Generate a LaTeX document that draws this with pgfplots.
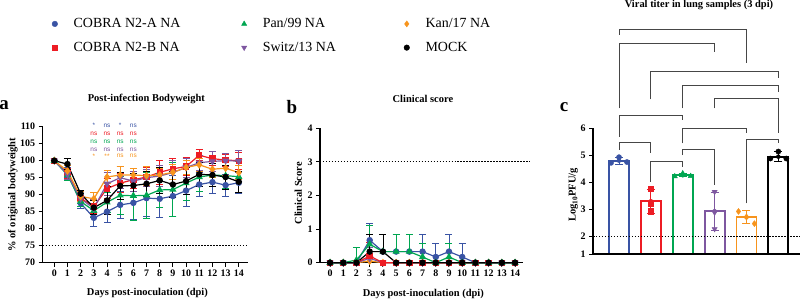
\documentclass[border=0pt]{standalone}
\usepackage{pgfplots}
\pgfplotsset{compat=1.18}
\usepackage{pgfplotstable}
\usepackage{fontspec}
\setmainfont{Liberation Serif}
\newfontfamily\sansf{Liberation Sans}
\usetikzlibrary{plotmarks}
\definecolor{cA}{RGB}{57,83,164}
\definecolor{cB}{RGB}{237,28,36}
\definecolor{cP}{RGB}{0,166,81}
\definecolor{cS}{RGB}{126,87,160}
\definecolor{cK}{RGB}{247,148,29}
\definecolor{cM}{RGB}{0,0,0}
\definecolor{brk}{RGB}{70,70,70}

\pgfplotstableread{
d m e
0 100 0
1 96.5 1.5
2 87.5 1.5
3 83.2 2.6
4 85.0 3.2
5 87.0 4.0
6 87.6 5.0
7 89.0 5.5
8 88.8 5.5
9 89.6 6.0
10 91.2 4.6
11 93.0 3.5
12 93.7 3.2
13 92.8 3.2
14 93.5 3.0
}\wA
\pgfplotstableread{
d m e
0 100 0
1 96.2 1.5
2 89.0 1.5
3 86.5 2.0
4 91.8 3.0
5 93.4 2.8
6 94.4 2.5
7 95.2 2.8
8 96.6 3.5
9 97.6 3.0
10 98.3 2.6
11 101.6 1.6
12 100.6 2.0
13 100.2 1.8
14 100.0 2.5
}\wB
\pgfplotstableread{
d m e
0 100 0
1 95.8 1.5
2 88.0 1.5
3 85.3 2.0
4 87.8 3.0
5 89.8 5.5
6 89.7 7.2
7 89.8 6.8
8 91.4 5.0
9 91.5 8.0
10 93.4 5.0
11 95.2 4.2
12 95.8 3.5
13 95.6 3.8
14 95.3 4.6
}\wP
\pgfplotstableread{
d m e
0 100 0
1 96.0 1.5
2 88.8 1.5
3 86.0 2.5
4 93.2 3.5
5 95.0 3.2
6 94.0 3.0
7 95.0 2.5
8 95.5 3.0
9 96.5 3.5
10 98.0 2.8
11 99.4 2.2
12 99.8 2.8
13 100.0 2.2
14 99.9 3.0
}\wS
\pgfplotstableread{
d m e
0 100 0
1 97.0 1.5
2 89.5 1.5
3 88.8 2.0
4 95.2 2.0
5 95.8 2.5
6 95.8 2.0
7 95.6 2.8
8 95.8 2.0
9 96.6 2.2
10 98.0 2.0
11 98.8 2.0
12 97.5 2.4
13 97.8 2.0
14 96.5 2.0
}\wK
\pgfplotstableread{
d m e
0 100 0
1 99.0 1.6
2 90.3 1.0
3 86.2 2.0
4 88.3 4.0
5 92.6 4.0
6 92.7 3.5
7 93.2 3.8
8 94.2 3.8
9 93.0 3.8
10 94.0 4.0
11 96.0 3.5
12 95.8 3.5
13 95.2 3.5
14 93.8 3.2
}\wM

\pgfplotstableread{
d m e
0 0 0
1 0 0
2 0 0
3 0.67 0.5
4 0.33 0.5
5 0.33 0.52
6 0.33 0.52
7 0.33 0.52
8 0.17 0.4
9 0.33 0.52
10 0.17 0.4
11 0 0
12 0 0
13 0 0
14 0 0
}\sA
\pgfplotstableread{
d m e
0 0 0
1 0 0
2 0 0
3 0.2 0.4
4 0 0
5 0 0
6 0 0
7 0 0
8 0 0
9 0 0
10 0 0
11 0 0
12 0 0
13 0 0
14 0 0
}\sB
\pgfplotstableread{
d m e
0 0 0
1 0 0
2 0.08 0.37
3 0.55 0.55
4 0.33 0.5
5 0.33 0.52
6 0.33 0.52
7 0.17 0.4
8 0 0
9 0.17 0.4
10 0 0
11 0 0
12 0 0
13 0 0
14 0 0
}\sP
\pgfplotstableread{
d m e
0 0 0
1 0 0
2 0 0
3 0.13 0.33
4 0 0
5 0 0
6 0 0
7 0 0
8 0 0
9 0 0
10 0 0
11 0 0
12 0 0
13 0 0
14 0 0
}\sS
\pgfplotstableread{
d m e
0 0 0
1 0 0
2 0 0
3 0.05 0.1
4 0 0
5 0 0
6 0 0
7 0 0
8 0 0
9 0 0
10 0 0
11 0 0
12 0 0
13 0 0
14 0 0
}\sK
\pgfplotstableread{
d m e
0 0 0
1 0 0
2 0 0
3 0.33 0.5
4 0.33 0.52
5 0 0
6 0 0
7 0 0
8 0 0
9 0 0
10 0 0
11 0 0
12 0 0
13 0 0
14 0 0
}\sM

\tikzset{sig/.style={font=\sansf\fontsize{6.5}{7}\selectfont, inner sep=0pt}}
\pgfplotsset{
  gp/.style={
    scale only axis,
    axis x line*=bottom, axis y line*=left,
    axis line style={line width=1.2pt, -},
    every tick/.style={line width=1pt, black},
    tick align=outside, major tick length=4bp,
    tick label style={font=\fontsize{10}{11}\selectfont\bfseries},
    /pgf/number format/assume math mode=true,
    label style={font=\fontsize{10.5}{12}\selectfont\bfseries},
    title style={font=\fontsize{10.5}{12}\selectfont\bfseries},
    clip=false,
  },
  ln/.style={line width=1.2pt, mark size=2.6bp,
    error bars/y dir=both, error bars/y explicit,
    error bars/error bar style={line width=0.8pt},
    error bars/error mark options={line width=0.8pt, mark size=3.5bp, rotate=90}},
  lnb/.style={line width=1.2pt, mark size=2.6bp,
    error bars/y dir=plus, error bars/y explicit,
    error bars/error bar style={line width=0.8pt},
    error bars/error mark options={line width=0.8pt, mark size=3.5bp, rotate=90}},
  eb/.style={only marks, mark=none, error bars/y dir=both, error bars/y explicit,
    error bars/error bar style={line width=0.9pt},
    error bars/error mark options={line width=0.9pt, mark size=4bp, rotate=90}},
}

\begin{document}
\begin{tikzpicture}
\path[use as bounding box] (0,0) rectangle (800bp,301bp);

% ---------------- panel a ----------------
\begin{axis}[gp,
  at={(42.7bp,38.3bp)}, anchor=south west,
  width=205.3bp, height=136bp,
  xmin=-0.88, xmax=14.7, ymin=70, ymax=110,
  xtick={0,...,14}, ytick={70,75,...,110},
  xlabel={Days post-inoculation (dpi)},
  ylabel={\% of original bodyweight},
  title={Post-infection Bodyweight},
  xlabel style={at={(axis description cs:0.51,-0.225)}, anchor=center},
  ylabel style={at={(axis description cs:-0.145,0.5)}, anchor=center},
  title style={at={(axis description cs:0.505,1.16)}, anchor=center},
  legend style={draw=none, fill=none, at={(axis description cs:0.030,1.826)}, anchor=north west,
    font=\fontsize{14}{16}\selectfont, row sep=9bp,
    /tikz/column 1/.style={column sep=14bp},
    /tikz/column 2/.style={column sep=59bp},
    /tikz/column 3/.style={column sep=14bp},
    /tikz/column 4/.style={column sep=66bp},
    /tikz/column 5/.style={column sep=14bp}},
  legend columns=3, legend cell align=left,
]
\addlegendimage{only marks, mark=*, cA, mark size=2.8bp}
\addlegendentry{COBRA N2-A NA}
\addlegendimage{only marks, mark=triangle*, cP, mark size=3bp}
\addlegendentry{Pan/99 NA}
\addlegendimage{only marks, mark=diamond*, cK, mark size=3bp}
\addlegendentry{Kan/17 NA}
\addlegendimage{only marks, mark=square*, cB, mark size=2.6bp}
\addlegendentry{COBRA N2-B NA}
\addlegendimage{only marks, mark=triangle*, mark options={rotate=180}, cS, mark size=3bp}
\addlegendentry{Switz/13 NA}
\addlegendimage{only marks, mark=*, cM, mark size=2.8bp}
\addlegendentry{MOCK}

\addplot[black, line width=1pt, dash pattern=on 1.5pt off 1.5pt, forget plot] coordinates {(-0.88,75) (14.7,75)};
\addplot[cA, ln, mark=*, forget plot] table[x=d, y=m, y error=e] {\wA};
\addplot[cB, ln, mark=square*, forget plot] table[x=d, y=m, y error=e] {\wB};
\addplot[cP, ln, mark=triangle*, mark size=3bp, forget plot] table[x=d, y=m, y error=e] {\wP};
\addplot[cS, ln, mark=triangle*, mark size=3bp, mark options={rotate=180}, forget plot] table[x=d, y=m, y error=e] {\wS};
\addplot[cK, ln, mark=diamond*, mark size=3bp, forget plot] table[x=d, y=m, y error=e] {\wK};
\addplot[cM, ln, mark=*, forget plot] table[x=d, y=m, y error=e] {\wM};

\node[sig, text=cA] at (axis cs:3,110.3) {*};
\node[sig, text=cA] at (axis cs:4,110.3) {ns};
\node[sig, text=cA] at (axis cs:5,110.3) {*};
\node[sig, text=cA] at (axis cs:6,110.3) {ns};
\node[sig, text=cB] at (axis cs:3,107.9) {ns};
\node[sig, text=cB] at (axis cs:4,107.9) {ns};
\node[sig, text=cB] at (axis cs:5,107.9) {ns};
\node[sig, text=cB] at (axis cs:6,107.9) {ns};
\node[sig, text=cP] at (axis cs:3,105.6) {ns};
\node[sig, text=cP] at (axis cs:4,105.6) {ns};
\node[sig, text=cP] at (axis cs:5,105.6) {ns};
\node[sig, text=cP] at (axis cs:6,105.6) {ns};
\node[sig, text=cS] at (axis cs:3,103.3) {ns};
\node[sig, text=cS] at (axis cs:4,103.3) {ns};
\node[sig, text=cS] at (axis cs:5,103.3) {ns};
\node[sig, text=cS] at (axis cs:6,103.3) {ns};
\node[sig, text=cK] at (axis cs:3,101.3) {*};
\node[sig, text=cK] at (axis cs:4,101.3) {**};
\node[sig, text=cK] at (axis cs:5,101.3) {ns};
\node[sig, text=cK] at (axis cs:6,101.3) {ns};

\node[font=\fontsize{19}{20}\selectfont\bfseries] at (axis description cs:-0.1875,1.157) {a};
\end{axis}

% ---------------- panel b ----------------
\begin{axis}[gp,
  at={(320bp,38.3bp)}, anchor=south west,
  width=203bp, height=134.4bp,
  xmin=-0.76, xmax=14.6, ymin=0, ymax=4,
  xtick={0,...,14}, ytick={0,1,2,3,4},
  xlabel={Days post-inoculation (dpi)},
  ylabel={Clinical Score},
  title={Clinical score},
  xlabel style={at={(axis description cs:0.509,-0.233)}, anchor=center},
  ylabel style={at={(axis description cs:-0.107,0.516)}, anchor=center},
  title style={at={(axis description cs:0.507,1.176)}, anchor=center},
]
\addplot[black, line width=1pt, dash pattern=on 1.5pt off 1.5pt] coordinates {(-0.76,3) (15.13,3)};
\addplot[cK, lnb, mark=diamond*, mark size=3bp] table[x=d, y=m, y error=e] {\sK};
\addplot[cS, lnb, mark=triangle*, mark size=3bp, mark options={rotate=180}] table[x=d, y=m, y error=e] {\sS};
\addplot[cB, lnb, mark=square*] table[x=d, y=m, y error=e] {\sB};
\addplot[cA, lnb, mark=*] table[x=d, y=m, y error=e] {\sA};
\addplot[cP, lnb, mark=triangle*, mark size=3bp] table[x=d, y=m, y error=e] {\sP};
\addplot[cM, lnb, mark=*] table[x=d, y=m, y error=e] {\sM};
\node[font=\fontsize{19}{20}\selectfont\bfseries] at (axis description cs:-0.139,1.161) {b};
\end{axis}

% ---------------- panel c (bars) ----------------
\begin{axis}[scale only axis, hide axis,
  at={(593bp,47bp)}, anchor=south west,
  width=207bp, height=125.7bp,
  xmin=-0.816, xmax=5.68, ymin=1.344, ymax=6]
\addplot[ybar, bar shift=0pt, bar width=20bp, draw=cA, line width=1.8pt, fill=white] coordinates {(0,4.80)};
\addplot[ybar, bar shift=0pt, bar width=20bp, draw=cB, line width=1.8pt, fill=white] coordinates {(1,3.30)};
\addplot[ybar, bar shift=0pt, bar width=20bp, draw=cP, line width=1.8pt, fill=white] coordinates {(2,4.26)};
\addplot[ybar, bar shift=0pt, bar width=20bp, draw=cS, line width=1.8pt, fill=white] coordinates {(3,2.93)};
\addplot[ybar, bar shift=0pt, bar width=20bp, draw=cK, line width=1.8pt, fill=white] coordinates {(4,2.70)};
\addplot[ybar, bar shift=0pt, bar width=20bp, draw=cM, line width=1.8pt, fill=white] coordinates {(5,4.95)};
\end{axis}

% ---------------- panel c (axes, points, brackets) ----------------
\begin{axis}[gp,
  at={(593bp,47bp)}, anchor=south west,
  width=207bp, height=125.7bp,
  xmin=-0.816, xmax=5.68, ymin=1.344, ymax=6,
  xtick=\empty, ytick={1.344,2,3,4,5,6}, yticklabels={1,2,3,4,5,6},
  ylabel={Log\textsubscript{10}PFU/g},
  title={Viral titer in lung samples (3 dpi)},
  ylabel style={at={(axis description cs:-0.095,0.469)}, anchor=center},
  title style={at={(axis description cs:0.512,1.935)}, anchor=center},
]
\addplot[black, line width=1pt, dash pattern=on 1.5pt off 1.5pt] coordinates {(-0.816,2) (5.68,2)};
\addplot[cA, eb] coordinates {(0,4.80) +- (0,0.13)};
\addplot[cB, eb] coordinates {(1,3.30) +- (0,0.45)};
\addplot[cP, eb] coordinates {(2,4.26) +- (0,0.06)};
\addplot[cS, eb] coordinates {(3,2.93) +- (0,0.70)};
\addplot[cK, eb] coordinates {(4,2.70) +- (0,0.24)};
\addplot[cM, eb] coordinates {(5,4.95) +- (0,0.19)};
\addplot[cA, only marks, mark=*, mark size=2.6bp] coordinates {(-0.25,4.72) (0,4.93) (0.25,4.75)};
\addplot[cB, only marks, mark=square*, mark size=2.6bp] coordinates {(1,3.77) (1,3.20) (1,2.93)};
\addplot[cP, only marks, mark=triangle*, mark size=3bp] coordinates {(1.75,4.22) (2,4.33) (2.25,4.23)};
\addplot[cS, only marks, mark=triangle*, mark options={rotate=180}, mark size=3bp] coordinates {(3,3.65) (3,2.88) (3,2.27)};
\addplot[cK, only marks, mark=diamond*, mark size=3bp] coordinates {(3.75,2.92) (4,2.72) (4.25,2.47)};
\addplot[cM, only marks, mark=*, mark size=2.6bp] coordinates {(4.75,4.88) (5,5.14) (5.25,4.88)};
\addplot[brk, line width=0.9pt] coordinates {(0,9.46) (0,9.67) (4,9.67) (4,8.41)};
\addplot[brk, line width=0.9pt] coordinates {(0,6.74) (0,9.15) (3,9.15) (3,8.84)};
\addplot[brk, line width=0.9pt] coordinates {(1,7.07) (1,8.10) (5,8.10) (5,7.85)};
\addplot[brk, line width=0.9pt] coordinates {(2,6.74) (2,7.57) (5,7.57) (5,7.36)};
\addplot[brk, line width=0.9pt] coordinates {(3,6.74) (3,7.09) (5,7.09) (5,5.84)};
\addplot[brk, line width=0.9pt] coordinates {(0,5.69) (0,6.46) (2,6.46) (2,6.31)};
\addplot[brk, line width=0.9pt] coordinates {(2,5.44) (2,6.00) (4,6.00) (4,5.84)};
\addplot[brk, line width=0.9pt] coordinates {(4,3.22) (4,5.60) (5,5.60) (5,5.44)};
\addplot[brk, line width=0.9pt] coordinates {(0,5.20) (0,5.47) (1,5.47) (1,5.09)};
\addplot[brk, line width=0.9pt] coordinates {(2,5.01) (2,5.20) (3,5.20) (3,3.90)};
\addplot[brk, line width=0.9pt] coordinates {(1,4.02) (1,4.76) (2,4.76) (2,4.58)};
\node[font=\fontsize{19}{20}\selectfont\bfseries] at (axis description cs:-0.140,1.165) {c};
\end{axis}
\end{tikzpicture}
\end{document}
